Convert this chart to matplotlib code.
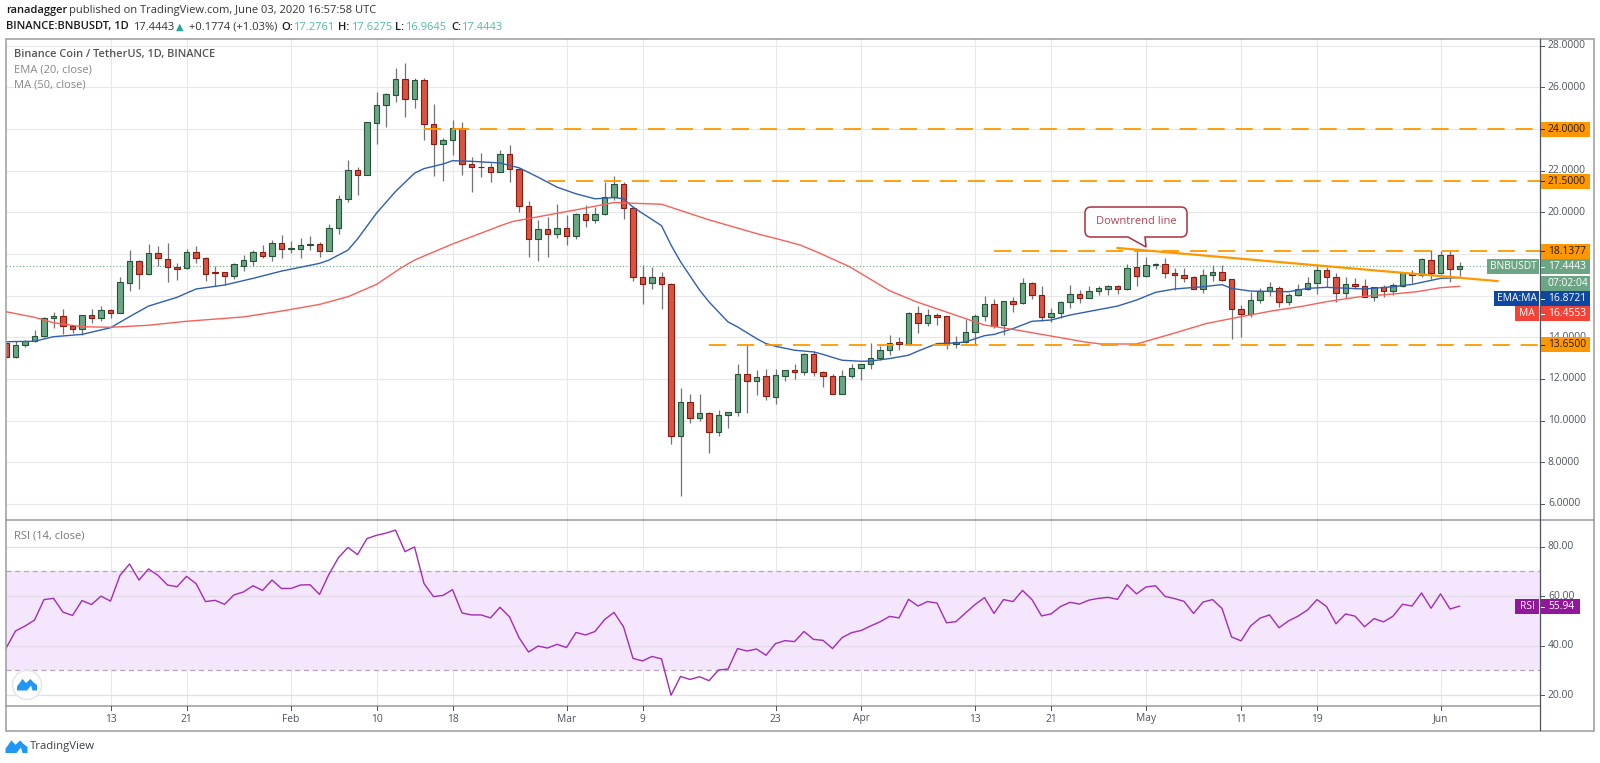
import matplotlib
matplotlib.use('Agg')
import numpy as np
import matplotlib.pyplot as plt
from matplotlib.patches import Rectangle, Polygon, Circle, PathPatch
from matplotlib.path import Path

plt.rcParams['font.family'] = ['Open Sans', 'DejaVu Sans']

# daily candles, index 0 = Jan 2 2020
opens = [13.71,13.04,13.65,13.82,14.08,14.93,15.01,14.54,14.42,15.06,
         14.94,15.31,15.18,16.63,17.65,17.04,18.06,17.76,17.39,17.33,
         18.11,17.81,17.14,17.12,16.94,17.44,17.68,18.08,17.92,18.54,
         18.24,18.26,18.42,18.46,18.16,19.27,20.65,22.03,21.77,24.31,
         25.13,25.64,26.38,25.45,26.33,24.23,23.28,23.46,24.05,22.32,
         22.17,22.16,21.93,22.8,22.08,20.31,18.71,19.19,18.98,19.24,
         18.88,19.91,19.65,19.91,20.73,21.35,20.23,16.91,16.6,16.88,
         16.56,9.28,10.9,10.13,10.39,9.44,10.28,10.41,12.25,11.9,
         12.13,11.14,12.16,12.45,12.34,13.22,12.34,12.16,11.3,12.13,
         12.54,12.74,13.02,13.38,13.76,13.66,15.18,14.69,15.09,15.01,
         13.7,13.78,14.27,15.01,15.62,14.59,15.76,15.65,16.59,16.05,
         14.99,15.15,15.71,16.06,15.9,16.21,16.34,16.45,16.33,17.39,
         16.94,17.46,17.5,17.09,16.99,16.88,16.34,16.99,17.14,16.78,
         15.36,15.1,15.79,16.22,16.35,15.71,16.05,16.3,16.59,17.22,
         16.91,16.11,16.56,16.48,15.95,16.4,16.22,16.46,17.09,16.99,
         17.73,17.07,17.94,17.2761]
closes = [13.04,13.65,13.82,14.08,14.93,15.02,14.56,14.42,15.06,14.94,
          15.33,15.18,16.64,17.65,17.04,18.06,17.81,17.39,17.3,18.11,
          17.81,17.04,17.09,16.94,17.5,17.7,18.08,17.89,18.54,18.24,
          18.29,18.42,18.46,18.16,19.27,20.65,22.03,21.77,24.36,25.13,
          25.69,26.38,25.45,26.33,24.23,23.28,23.46,24.05,22.33,22.16,
          22.16,21.93,22.8,22.08,20.31,18.71,19.19,18.98,19.24,18.88,
          19.91,19.65,19.91,20.73,21.35,20.23,16.91,16.56,16.88,16.56,
          9.28,10.9,10.13,10.39,9.44,10.28,10.41,12.25,11.9,12.08,
          11.2,12.18,12.45,12.34,13.22,12.34,12.16,11.3,12.13,12.54,
          12.74,13.02,13.38,13.74,13.66,15.18,14.69,15.09,14.99,13.7,
          13.79,14.27,15.01,15.62,14.56,15.74,15.62,16.59,16.05,14.99,
          15.15,15.71,16.06,15.9,16.22,16.35,16.45,16.34,17.34,16.94,
          17.46,17.52,17.07,16.99,16.85,16.34,16.99,17.14,16.77,15.38,
          15.1,15.79,16.22,16.4,15.71,16.05,16.3,16.59,17.22,16.91,
          16.11,16.56,16.46,15.95,16.4,16.22,16.5,17.09,16.99,17.74,
          17.07,17.94,17.26,17.4443]
highs = [13.72,13.8,13.87,14.35,14.98,15.22,15.34,14.59,15.09,15.34,
         15.5,15.38,16.91,18.19,17.71,18.46,18.38,18.51,17.55,18.22,
         18.38,17.84,17.42,17.15,17.55,17.95,18.19,18.43,18.67,18.91,
         18.61,18.75,18.86,18.59,19.44,20.84,22.53,22.16,24.36,25.78,
         25.74,26.91,27.18,26.46,26.46,25.22,23.57,24.45,24.32,22.64,
         22.85,22.37,22.98,23.25,22.08,20.55,19.64,19.77,20.41,19.88,
         19.96,20.36,20.25,21.45,21.76,21.48,20.31,17.47,17.39,17.13,
         16.62,11.58,11.29,11.26,10.4,10.49,10.41,12.7,13.65,12.45,
         12.5,12.5,12.45,12.74,13.25,13.34,12.37,12.26,12.45,12.74,
         12.74,13.73,13.57,14.1,14.02,15.22,15.49,15.34,15.17,15.01,
         14.05,14.9,15.1,15.97,15.86,15.74,15.95,16.83,16.67,16.46,
         15.42,15.76,16.51,16.27,16.46,16.46,16.51,16.51,17.5,18.19,
         17.84,17.55,17.82,17.34,17.31,16.94,17.28,17.47,17.47,16.78,
         15.54,16.19,16.35,16.67,16.46,16.11,16.54,16.88,17.47,17.39,
         17.07,16.91,16.86,16.78,16.4,16.51,16.62,17.15,17.23,17.79,
         18.19,18.13,18.19,17.6275]
lows = [13.0,13.0,13.52,13.78,14.03,14.45,14.16,14.19,14.11,14.7,
        14.8,14.93,15.15,16.24,16.3,17.0,17.42,16.64,16.75,17.26,
        17.55,16.72,16.46,16.51,16.82,17.2,17.44,17.79,17.66,17.79,
        18.03,17.79,18.19,17.84,18.13,18.95,20.52,20.84,21.77,23.26,
        24.08,25.29,24.58,25.0,23.49,21.76,21.5,22.74,21.77,21.0,
        21.72,21.45,21.92,21.45,20.04,17.87,17.68,17.87,18.79,18.43,
        18.72,19.32,19.48,19.88,20.57,19.69,16.72,15.59,16.3,15.38,
        8.88,6.39,9.88,9.97,8.45,9.28,9.65,10.2,10.39,11.24,
        10.98,10.82,11.9,12.02,12.21,12.13,11.62,11.26,11.26,12.06,
        11.94,12.48,12.93,13.14,13.38,13.62,14.21,14.54,14.61,13.42,
        13.49,13.73,13.62,14.78,14.46,14.11,15.23,15.6,15.82,14.8,
        14.74,14.91,15.39,15.63,15.87,16.03,16.03,16.08,16.27,16.46,
        16.88,17.26,16.83,16.27,16.67,16.3,16.11,16.72,16.72,13.9,
        14.03,14.96,15.66,15.98,15.44,15.55,15.98,16.27,16.08,16.43,
        15.71,15.87,16.3,15.92,15.76,15.95,16.03,16.4,16.59,16.88,
        16.78,17.04,16.67,16.9645]

ema_days = [0,3,5,8,11,13,15,18,20,23,26,29,33,34,36,37,39,41,43,44,46,47,49,52,54,56,58,60,62,64,65,66,
            69,70,71,73,74,76,77,79,80,81,83,85,86,88,90,91,93,95,96,98,100,101,103,104,106,108,110,112,
            117,119,121,123,126,128,129,131,135,137,139,143,146,148,151,153]
ema_vals = [13.79,13.81,14.03,14.14,14.46,14.99,15.5,15.92,16.32,16.51,16.83,17.18,17.55,17.71,18.19,18.72,19.96,
            21.0,21.88,22.1,22.32,22.48,22.45,22.37,22.14,21.69,21.21,20.89,20.65,20.71,20.65,20.25,
            19.36,18.43,17.63,16.27,15.7,14.74,14.5,13.94,13.7,13.57,13.38,13.3,13.18,12.9,12.85,12.86,12.98,13.14,13.34,
            13.7,13.73,13.78,14.08,14.14,14.42,14.77,14.83,15.07,15.5,15.79,16.16,16.32,16.43,16.53,16.35,16.22,
            16.19,16.35,16.4,16.32,16.43,16.54,16.83,16.87]
ma_days = [0,3,5,8,11,15,19,25,29,33,36,39,41.5,43,47,52,53.3,60,64,69,74,79.4,81,83.6,85.3,88.8,93,95.8,99.4,
           103,106.4,113.4,115.2,119,122.9,126.4,130,133.4,136.2,139,142.5,146,148.5,151,153]
ma_vals = [15.23,14.96,14.7,14.51,14.48,14.58,14.77,14.98,15.26,15.58,15.95,16.54,17.31,17.71,18.48,19.35,19.56,
           20.12,20.47,20.39,19.64,18.93,18.75,18.43,18.11,17.39,16.24,15.71,15.15,14.59,14.35,13.79,13.68,13.68,
           14.19,14.67,14.99,15.28,15.47,15.71,15.95,16.08,16.19,16.38,16.45]

rsi_vals = [38.9,45.9,47.9,50.3,58.6,59.1,53.5,52.2,58.2,56.6,60,58,68.4,73,66.5,71,68.4,64.5,63.8,68,
            65.1,57.8,58.3,56.7,60.5,61.7,64.2,62.3,66.5,63.1,63.1,64.5,64.6,60.7,68.9,75.6,79.7,76.8,83.3,84.6,
            85.5,86.7,78,79.9,65.1,59.8,60.3,62.6,53.2,52.4,52.4,51.2,55.5,51.6,43.2,37.4,39.8,39,40.5,39.2,
            45.3,44.3,45.7,50.5,53.4,47.6,34.8,33.8,35.6,34.6,19.9,27.5,26.3,27.4,25.8,30.1,30.5,38.8,37.8,38.6,
            36.1,40.8,42,41.6,45.7,42.5,42.1,38.8,43.2,45.2,46.1,47.9,49.6,51.8,51.2,58.7,56,57.8,57.2,49.2,
            49.7,53.2,56.6,59.4,53,58.6,57.8,62.3,58.6,52,52.8,55.8,57.5,56.8,58.4,59.1,59.5,58.7,64.6,60.9,
            63.7,64.2,59.9,59,57.9,53,57.6,58.6,55,43.5,41.9,47.9,51.1,52.4,47.2,50,51.9,54.4,58.6,55.8,
            48.8,52.8,51.9,47.6,50.9,49.6,51.9,56.7,56,61.3,55.1,60.9,54.8,55.94]

price_ticks = [6,8,10,12,14,16,18,20,22,24,26,28]
price_tick_labels = [6,8,10,12,14,20,22,26,28]  # 16, 18 and 24 sit under the price boxes
rsi_ticks = [20,40,60,80]
date_pos = [11,19,30,39,47,59,67,81,90,102,110,120,130,138,151]
date_labels = ['13','21','Feb','10','18','Mar','9','23','Apr','13','21','May','11','19','Jun']

level_prices = [24.0, 21.5, 18.1377, 13.65]
level_starts = [44, 57, 104, 74]
trend_days = [117, 157]
trend_prices = [18.29, 16.70]
last_price = 17.4443

W, H = 1600, 763
GREEN, RED = '#6ba583', '#d75442'
GREEN_E, RED_E = '#225437', '#8a1a10'
ORANGE = '#ff9800'
GRID = '#e8e8e8'
TXT = '#4c525e'
TICK_FS = 7.4
HEAD_FS = 8.0

fig = plt.figure(figsize=(W/100, H/100), dpi=100, facecolor='white')

def add_ax(x0, y0, x1, y1):
    return fig.add_axes([x0/W, 1-y1/H, (x1-x0)/W, (y1-y0)/H])

ax = add_ax(6, 38, 1540, 520)
rsi = add_ax(6, 520, 1540, 706)
ov = fig.add_axes([0, 0, 1, 1], zorder=10)
ov.set_xlim(0, W)
ov.set_ylim(H, 0)
ov.axis('off')
ov.patch.set_alpha(0)

for a in (ax, rsi):
    a.set_xlim(0, 161.47)
    a.set_xticks([])
    a.set_yticks([])
    for s in a.spines.values():
        s.set_visible(False)
    for d in date_pos:
        a.axvline(d, color=GRID, lw=0.8, zorder=0)
ax.set_ylim(5.23, 28.37)
rsi.set_ylim(15.55, 90.8)

# price pane
for p in price_ticks:
    ax.axhline(p, color=GRID, lw=0.8, zorder=0)
ax.axhline(last_price, color=GREEN, lw=0.8, ls=(0, (1, 2)), zorder=1)

days = np.arange(len(opens))
opens = np.array(opens)
closes = np.array(closes)
ups = closes >= opens
ax.vlines(days, lows, highs, color='#737375', lw=0.9, zorder=2)
ax.bar(days[ups], (closes-opens)[ups], bottom=opens[ups], width=0.62, color=GREEN,
       edgecolor=GREEN_E, linewidth=0.8, zorder=3)
ax.bar(days[~ups], (closes-opens)[~ups], bottom=opens[~ups], width=0.62, color=RED,
       edgecolor=RED_E, linewidth=0.8, zorder=3)

ax.plot(ema_days, ema_vals, color='#2f5fae', lw=1.0, zorder=4)
ax.plot(ma_days, ma_vals, color='#f8605a', lw=1.0, zorder=4)

for p, s in zip(level_prices, level_starts):
    ax.plot([s, 161.47], [p, p], color=ORANGE, lw=1.3, ls=(0, (9.5, 6)), zorder=4)
ax.plot(trend_days, trend_prices, color=ORANGE, lw=1.6, zorder=5)

# rsi pane
rsi.axhspan(30, 70, color='#f4e6fd', lw=0, zorder=0)
for p in rsi_ticks:
    rsi.axhline(p, color='#e4dce8', lw=0.9, zorder=1)
for p in [30, 70]:
    rsi.axhline(p, color='#b9a2bf', lw=0.9, ls=(0, (4, 3)), zorder=1)
rsi.plot(days, rsi_vals, color='#a32cb5', lw=1.0, zorder=3)

# frame
ov.add_patch(Rectangle((5.5, 38.5), 1588.5, 692, fc='none', ec='#9b9b9b', lw=1.1))
ov.plot([5.5, 1594], [520, 520], color='#9b9b9b', lw=1.1)
ov.plot([5.5, 1540], [706, 706], color='#9b9b9b', lw=1.1)
ov.plot([1540, 1540], [38.5, 730], color='#4c525e', lw=0.9)

def price_y(p):
    return H - ax.transData.transform((0, p))[1]

def rsi_y(p):
    return H - rsi.transData.transform((0, p))[1]

for p in price_ticks:
    y = price_y(p)
    ov.plot([1540, 1544], [y, y], color=TXT, lw=0.7)
for p in price_tick_labels:
    ov.text(1548, price_y(p), f'{p:.4f}', fontsize=TICK_FS, color=TXT, va='center', ha='left')
for p in rsi_ticks:
    y = rsi_y(p)
    ov.plot([1540, 1544], [y, y], color=TXT, lw=0.7)
    ov.text(1548, y, f'{p:.2f}', fontsize=TICK_FS, color=TXT, va='center', ha='left')
for d, lab in zip(date_pos, date_labels):
    x = 6 + d*(1534/161.47)
    ov.plot([x, x], [706, 710], color=TXT, lw=0.7)
    ov.text(x, 719, lab, fontsize=TICK_FS, color=TXT, va='center', ha='center')

def name_box(x0, x1, yc, text, fc):
    ov.add_patch(Rectangle((x0, yc-7.5), x1-x0, 15, fc=fc, ec='none', zorder=6))
    ov.text((x0+x1)/2, yc, text, fontsize=TICK_FS, color='white', va='center', ha='center', zorder=7)

def value_box(x1, yc, text, fc, tc='white', dash=True):
    ov.add_patch(Rectangle((1540.5, yc-7.5), x1-1540.5, 15, fc=fc, ec='none', zorder=6))
    if dash:
        ov.plot([1540.5, 1544], [yc, yc], color=tc, lw=0.7, zorder=7)
    ov.text(1548, yc, text, fontsize=TICK_FS, color=tc, va='center', ha='left', zorder=7)

for p in level_prices:
    value_box(1590, price_y(p), f'{p:.4f}', ORANGE, '#1f1a12')
name_box(1487, 1539, 266.5, 'BNBUSDT', GREEN)
value_box(1590, 266.5, '17.4443', GREEN)
value_box(1590, 283, '07:02:04', GREEN, dash=False)
name_box(1494, 1539, 298.5, 'EMA:MA', '#0d47a1')
value_box(1590, 298.5, '16.8721', '#0d47a1')
name_box(1515, 1539, 313.5, 'MA', '#f44336')
value_box(1590, 313.5, '16.4553', '#f44336')
name_box(1515, 1539, 606.5, 'RSI', '#91179b')
value_box(1580, 606.5, '55.94', '#91179b')

# callout
x0, x1, y0, y1, r = 1085, 1187, 207, 237, 6
verts = [(x0+r, y0), (x1-r, y0), (x1, y0), (x1, y0+r), (x1, y1-r), (x1, y1), (x1-r, y1),
         (1145, y1), (1146, 247), (1128, y1), (x0+r, y1), (x0, y1), (x0, y1-r),
         (x0, y0+r), (x0, y0), (x0+r, y0)]
codes = [Path.MOVETO, Path.LINETO, Path.CURVE3, Path.CURVE3, Path.LINETO, Path.CURVE3, Path.CURVE3,
         Path.LINETO, Path.LINETO, Path.LINETO, Path.LINETO, Path.CURVE3, Path.CURVE3,
         Path.LINETO, Path.CURVE3, Path.CURVE3]
ov.add_patch(PathPatch(Path(verts, codes), fc='white', ec='#a8323f', lw=1.1, zorder=5))
ov.text(1136, 222, 'Downtrend line', fontsize=8.0, color='#b4434f', ha='center', va='center', zorder=6)

# header
ov.text(6, 11, 'ranadagger', fontsize=HEAD_FS, color='#1a1a1a', fontweight='semibold', va='center')
ov.text(69, 11, 'published on TradingView.com, June 03, 2020 16:57:58 UTC', fontsize=HEAD_FS, color='#333333', va='center')
ov.text(6, 27, 'BINANCE:BNBUSDT, 1D', fontsize=HEAD_FS, color='#1a1a1a', fontweight='semibold', va='center')
ov.text(133, 27, '17.4443', fontsize=HEAD_FS, color='#333333', va='center')
ov.text(176, 27, '▲', fontsize=7, color='#26a69a', va='center')
ov.text(189, 27, '+0.1774 (+1.03%)', fontsize=HEAD_FS, color='#333333', va='center')
TEAL = '#53b9a8'
for lx, lab, vx, val in [(281, 'O:', 293, '17.2761'), (338, 'H:', 351, '17.6275'),
                         (395, 'L:', 405, '16.9645'), (451, 'C:', 461, '17.4443')]:
    ov.text(lx, 27, lab, fontsize=HEAD_FS, color='#1a1a1a', fontweight='semibold', va='center')
    ov.text(vx, 27, val, fontsize=HEAD_FS, color=TEAL, va='center')

ov.text(14, 54, 'Binance Coin / TetherUS, 1D, BINANCE', fontsize=7.9, color='#555555', fontweight='semibold', va='center')
ov.text(14, 70, 'EMA (20, close)', fontsize=8.0, color='#888888', va='center')
ov.text(14, 85, 'MA (50, close)', fontsize=8.0, color='#888888', va='center')
ov.text(14, 536, 'RSI (14, close)', fontsize=8.0, color='#777777', va='center')

# logos
def cloud(cx, cy, s):
    shape = np.array([[-1, .55], [-1, .15], [-.45, -.6], [-.1, -.2], [.35, -.6], [.55, -.35], [1, 0], [1, .55],
                      [.55, .55], [.4, .05], [0, .55]])
    return Polygon(shape*s + [cx, cy], fc='#2196f3', ec='none', zorder=7)

ov.add_patch(Circle((27, 685), 14.5, fc='white', ec='#e4e4e4', lw=1, zorder=6))
ov.add_patch(cloud(27, 685, 10))
ov.add_patch(cloud(16.5, 747, 11))
ov.text(30, 747, 'TradingView', fontsize=8.2, color='#3c4043', va='center')

fig.savefig('out.png', dpi=100, facecolor='white')
